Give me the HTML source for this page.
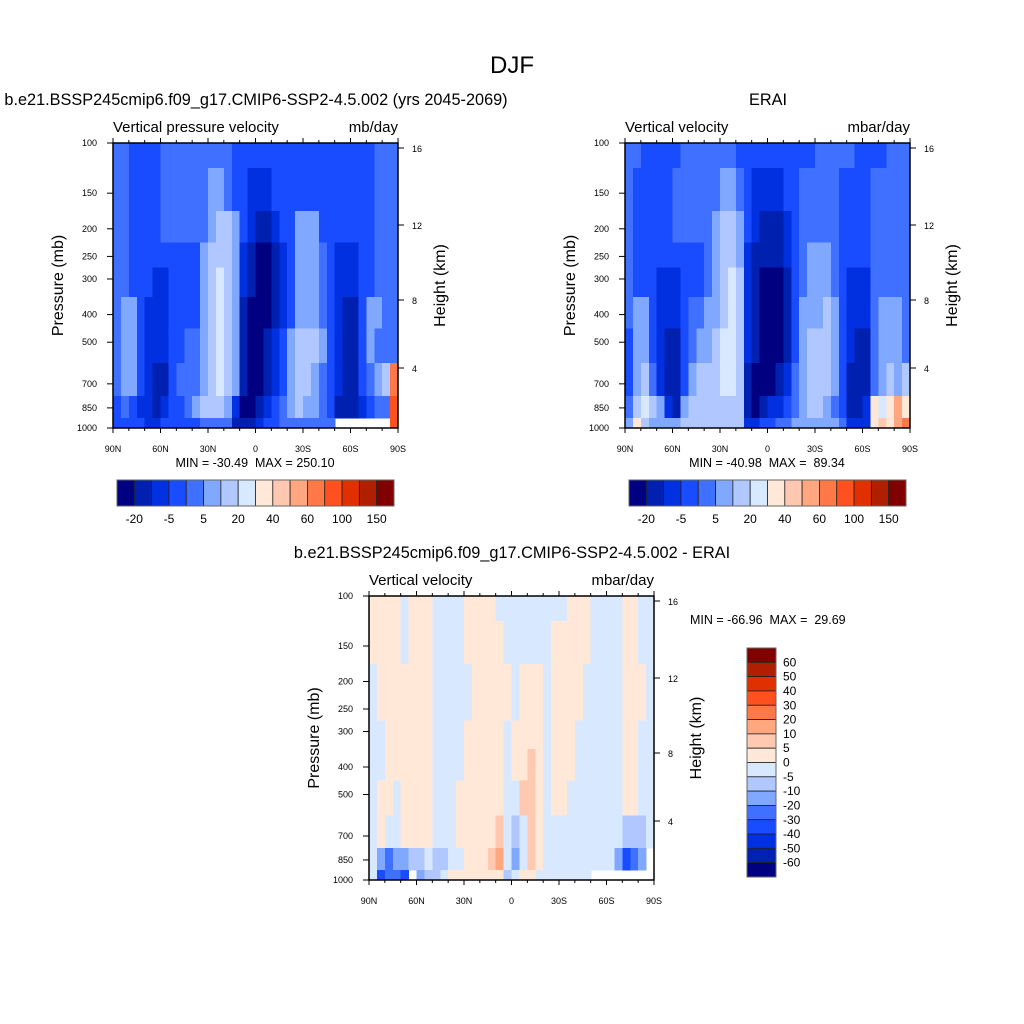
<!DOCTYPE html>
<html><head><meta charset="utf-8"><style>
body{margin:0;background:#fff}
svg{display:block;font-family:"Liberation Sans",sans-serif}
</style></head><body>
<svg id="fig" width="1024" height="1024" viewBox="0 0 1024 1024">
<text x="512" y="73" font-size="24" text-anchor="middle">DJF</text>
</svg>
<script>
const NS="http://www.w3.org/2000/svg";
const svg=document.getElementById('fig');
const pLevels=[100,150,200,250,300,400,500,700,850,1000];
const latCols=36; // 5-degree columns from 90N to 90S
const colors=["#000080","#0020b0","#0030e0","#1a4cff","#4070ff","#80a8ff","#b0c8ff","#d8e8ff","#ffe8d8","#ffc8b0","#ffa880","#ff7848","#ff5020","#e03000","#b02000","#800000"];
const levelsAbs=[-20,-10,-5,0,5,10,20,30,40,50,60,80,100,120,150];
const levelsDiff=[-60,-50,-40,-30,-20,-10,-5,0,5,10,20,30,40,50,60];
const cbLabelsAbs=["-20","-5","5","20","40","60","100","150"];
const cbLabelsDiff=["60","50","40","30","20","10","5","0","-5","-10","-20","-30","-40","-50","-60"];
const latTicks=["90N","60N","30N","0","30S","60S","90S"];
const kmTicks=[16,12,8,4];
const kmTickPx=[5,82,157,225];
const N=null;
// panel 1 (model) rows by pressure level
const m100=[2,2,-2,-2,-2,-2,2,2,2,2,2,2,2,2,2,-2,-2,-2,-2,-2,-2,-2,-2,-2,-2,-2,-2,-2,-2,-2,-2,-2,-2,2,2,2];
const m150=[2,2,-2,-2,-2,-2,2,2,2,2,2,2,7,7,2,-2,-2,-7,-7,-7,-2,-2,-2,-2,-2,-2,-2,-2,-2,-2,-2,-2,-2,2,2,2];
const m200=[2,2,-2,-2,-2,-2,2,2,2,2,2,2,7,15,15,7,-2,-7,-15,-15,-7,-2,-2,7,7,7,-2,-2,-2,-2,-2,-2,-2,2,2,2];
const m250=[2,2,-2,-2,-2,-2,-2,-2,-2,-2,-2,7,15,15,15,7,-7,-15,-25,-25,-15,-7,-2,7,7,7,2,-2,-7,-7,-7,-2,-2,2,2,2];
const m300=[2,2,-2,-2,-2,-7,-7,-2,-2,-2,-2,7,15,25,15,7,-7,-15,-25,-25,-15,-7,-2,7,7,7,2,-2,-7,-7,-7,-2,-2,2,2,2];
const m400=[2,7,7,-2,-7,-7,-7,-2,-2,-2,-2,7,15,25,15,7,-15,-25,-25,-25,-15,-7,-2,7,7,7,2,-2,-7,-15,-15,-2,7,7,2,2];
const m500=[2,7,7,-2,-7,-7,-7,-2,-2,2,2,7,15,25,15,7,-15,-25,-25,-15,-7,-2,7,15,15,15,7,-2,-7,-15,-15,-2,7,2,2,2];
const m700=[2,7,7,-2,-7,-15,-15,-2,2,2,2,7,15,25,15,7,-15,-25,-25,-15,-7,-2,7,15,15,7,2,-2,-7,-15,-15,-2,2,7,15,70];
const m850=[-2,2,-2,-7,-7,-15,-7,-2,-2,2,7,15,15,15,7,-7,-25,-25,-15,-7,-2,2,7,15,7,7,2,-2,-15,-15,-15,-7,-2,2,2,90];
const m1000=[-2,-2,-2,-2,-7,-7,-2,-2,-2,-2,-2,2,2,2,2,-15,-15,-15,-7,-2,-2,2,2,2,2,2,2,2,N,N,N,N,N,N,N,90];
// panel 2 (ERAI)
const e100=[2,2,-2,-2,-2,-2,-2,2,2,2,2,2,2,2,-2,-2,-2,-2,-2,-2,-2,-2,-2,-2,2,2,2,2,2,-2,-2,-2,-2,2,2,2];
const e150=[2,-2,-2,-2,-2,-2,2,2,2,2,2,2,7,7,2,-2,-7,-7,-7,-7,-2,-2,2,2,2,2,2,-2,-2,-2,-2,2,2,2,2,2];
const e200=[2,-2,-2,-2,-2,-2,2,2,2,2,2,7,15,15,7,-2,-7,-15,-15,-15,-7,-2,2,2,2,2,2,-2,-2,-2,-2,2,2,2,2,2];
const e250=[2,-2,-2,-2,-2,-2,-2,-2,-2,-2,2,7,15,15,7,-7,-15,-15,-15,-15,-7,-2,2,7,7,7,2,-2,-2,-2,-2,2,2,2,2,2];
const e300=[2,-2,-2,-2,-7,-7,-7,-2,-2,-2,2,7,15,25,15,-7,-15,-25,-25,-25,-15,-2,2,7,7,7,2,-2,-7,-7,-7,2,2,2,2,2];
const e400=[2,7,7,-2,-7,-7,-7,-2,2,2,7,7,15,25,15,-7,-15,-25,-25,-25,-15,-2,7,7,7,15,7,-2,-7,-7,-7,2,7,7,7,2];
const e500=[-2,7,7,-2,-7,-15,-15,-2,2,7,7,15,25,25,15,-7,-15,-25,-25,-25,-15,-2,7,15,15,15,7,-2,-7,-15,-15,2,7,7,7,2];
const e700=[-2,7,15,2,-7,-15,-15,-2,7,15,15,15,25,25,15,-15,-25,-25,-25,-15,-7,2,7,15,15,15,7,-2,-15,-15,-15,2,7,15,7,15];
const e850=[2,15,25,15,7,-7,-15,7,15,15,15,15,15,15,15,-15,-25,-15,-7,-7,-2,2,7,15,15,7,2,-2,-15,-15,-7,35,25,35,55,35];
const e1000=[7,35,15,7,7,7,7,15,15,15,15,15,15,15,15,-7,-7,-2,-2,2,2,7,7,7,7,7,7,2,-7,-7,-7,35,45,35,55,70];
// panel 3 (difference)
const d100=[2,2,2,2,-2,2,2,2,-2,-2,-2,-2,2,2,2,2,-2,-2,-2,-2,-2,-2,-2,-2,-2,2,2,2,-2,-2,-2,-2,2,2,-2,-2];
const d150=[2,2,2,2,-2,2,2,2,-2,-2,-2,-2,2,2,2,2,2,-2,-2,-2,-2,-2,-2,2,2,2,2,2,-2,-2,-2,-2,2,2,-2,-2];
const d200=[-2,2,2,2,2,2,2,2,-2,-2,-2,-2,-2,2,2,2,2,2,-2,2,2,2,-2,2,2,2,2,-2,-2,-2,-2,-2,2,2,2,-2];
const d250=[-2,2,2,2,2,2,2,2,-2,-2,-2,-2,-2,2,2,2,2,2,-2,2,2,2,-2,2,2,2,2,-2,-2,-2,-2,-2,2,2,2,-2];
const d300=[-2,-2,2,2,2,2,2,2,-2,-2,-2,-2,2,2,2,2,2,-2,2,2,2,2,-2,2,2,2,-2,-2,-2,-2,-2,-2,2,2,-2,-2];
const d400=[-2,-2,2,2,2,2,2,2,-2,-2,-2,-2,2,2,2,2,2,-2,2,2,7,2,-2,2,2,2,-2,-2,-2,-2,-2,-2,2,2,-2,-2];
const d500=[-2,2,2,-2,2,2,2,2,-2,-2,-2,2,2,2,2,2,2,-2,-2,7,7,2,-2,2,2,-2,-2,-2,-2,-2,-2,-2,2,2,-2,-2];
const d700=[-2,2,-2,-2,2,2,2,2,-2,-2,-2,2,2,2,2,2,7,-2,-7,-2,7,2,-2,-2,-2,-2,-2,-2,-2,-2,-2,-2,-7,-7,-7,-2];
const d850=[-2,-15,-25,-15,-15,-7,-7,-2,-7,-7,-2,-2,2,2,2,7,15,-2,-15,-2,7,2,-2,-2,-2,-2,-2,-2,-2,-2,-2,-15,-35,-25,-15,N];
const d1000=[-2,-35,-25,-25,-35,N,-15,-7,-7,-2,2,2,2,2,2,2,2,-7,-2,2,2,-2,-2,-2,-2,-2,-2,-2,N,N,N,N,N,N,N,N];

const gridModel=[m100,m150,m200,m250,m300,m400,m500,m700,m850,m1000];
const gridERAI=[e100,e150,e200,e250,e300,e400,e500,e700,e850,e1000];
const gridDiff=[d100,d150,d200,d250,d300,d400,d500,d700,d850,d1000];

function el(tag,attrs,parent){const e=document.createElementNS(NS,tag);for(const k in attrs)e.setAttribute(k,attrs[k]);(parent||svg).appendChild(e);return e;}
function txt(x,y,s,size,anchor,parent){const t=el('text',{x:x,y:y,'font-size':size,'text-anchor':anchor||'start'},parent);t.textContent=s;return t;}
function bandIndex(v,levels){let i=0;while(i<levels.length&&v>=levels[i])i++;return i;}

function panel(name,X,Y,W,H,grid,levels,leftTitle,rightTitle,minmax,minmaxPos){
  const g=el('g',{});
  
  
  const xs=lat=>X+(90-lat)/180*W;
  const ys=p=>Y+(Math.log10(p)-2)*H;
  const bounds=[100];
  for(let k=0;k<pLevels.length-1;k++)bounds.push(Math.sqrt(pLevels[k]*pLevels[k+1]));
  bounds.push(1000);
  const cells=el('g',{'shape-rendering':'crispEdges'},g);
  
  
  grid.forEach((row,r)=>{
    row.forEach((v,c)=>{
      if(v===null)return;
      const x0=xs(90-c*5),x1=xs(90-(c+1)*5);
      const y0=ys(bounds[r]),y1=ys(bounds[r+1]);
      const rc=el('rect',{x:x0,y:y0,width:x1-x0+0.6,height:y1-y0+0.6,fill:colors[bandIndex(v,levels)]},cells);
      
      
    });
  });
  const fr=el('rect',{x:X,y:Y,width:W,height:H,fill:'none',stroke:'#000','stroke-width':1.5},g);
  
  
  for(let lat=90;lat>=-90;lat-=10){
    const x=xs(lat),major=(lat%30===0),L=major?5:3;
    el('line',{x1:x,x2:x,y1:Y+H,y2:Y+H+L,stroke:'#000','stroke-width':1},g);
    el('line',{x1:x,x2:x,y1:Y,y2:Y-L,stroke:'#000','stroke-width':1},g);
  }
  latTicks.forEach((s,i)=>{const t=txt(xs(90-30*i),Y+H+24,s,9,'middle',g);
    });
  pLevels.forEach(p=>{const y=ys(p);
    el('line',{x1:X-6,x2:X,y1:y,y2:y,stroke:'#000','stroke-width':1},g);
    const t=txt(X-16,y+3,String(p),9,'end',g);
    });
  kmTicks.forEach((k,i)=>{const y=Y+kmTickPx[i];
    el('line',{x1:X+W,x2:X+W+6,y1:y,y2:y,stroke:'#000','stroke-width':1},g);
    const t=txt(X+W+14,y+4,String(k),9,'start',g);
    });
  const yl=txt(0,0,'Pressure (mb)',16,'middle',g);
  yl.setAttribute('transform',`translate(${X-50},${Y+H/2}) rotate(-90)`);
  
  const hl=txt(0,0,'Height (km)',16,'middle',g);
  hl.setAttribute('transform',`translate(${X+W+47},${Y+H/2}) rotate(-90)`);
  
  const lt=txt(X,Y-11,leftTitle,15,'start',g);
  
  const rt=txt(X+W,Y-11,rightTitle,15,'end',g);
  
  const mm=txt(minmaxPos[0],minmaxPos[1],minmax,12.5,minmaxPos[2],g);
  mm.setAttribute('xml:space','preserve');mm.style.whiteSpace='pre';
  
}

function hColorbar(name,X,Y,W,H){
  const g=el('g',{});
  
  
  const bw=W/colors.length;
  colors.forEach((c,i)=>{const r=el('rect',{x:X+i*bw,y:Y,width:bw,height:H,fill:c,stroke:'#222','stroke-width':0.8},g);
    });
  el('rect',{x:X,y:Y,width:W,height:H,fill:'none',stroke:'#666','stroke-width':1},g);
  cbLabelsAbs.forEach((s,i)=>{const t=txt(X+(1+2*i)*bw,Y+H+17,s,12,'middle',g);
    });
}
function vColorbar(name,X,Y,W,H){
  const g=el('g',{});
  
  
  const bh=H/colors.length;
  colors.slice().reverse().forEach((c,i)=>{const r=el('rect',{x:X,y:Y+i*bh,width:W,height:bh,fill:c,stroke:'#222','stroke-width':0.8},g);
    });
  el('rect',{x:X,y:Y,width:W,height:H,fill:'none',stroke:'#666','stroke-width':1},g);
  cbLabelsDiff.forEach((s,i)=>{const t=txt(X+W+7,Y+(i+1)*bh+4,s,12,'start',g);
    });
}

let t;
t=txt(256,105,'b.e21.BSSP245cmip6.f09_g17.CMIP6-SSP2-4.5.002 (yrs 2045-2069)',16.3,'middle');

t=txt(768,105,'ERAI',16.3,'middle');

t=txt(512,558,'b.e21.BSSP245cmip6.f09_g17.CMIP6-SSP2-4.5.002 - ERAI',16.3,'middle');


panel('model-panel',113,143,285,285,gridModel,levelsAbs,'Vertical pressure velocity','mb/day','MIN = -30.49  MAX = 250.10',[255,467,'middle']);
panel('erai-panel',625,143,285,285,gridERAI,levelsAbs,'Vertical velocity','mbar/day','MIN = -40.98  MAX =  89.34',[767,467,'middle']);
panel('diff-panel',369,596,285,284,gridDiff,levelsDiff,'Vertical velocity','mbar/day','MIN = -66.96  MAX =  29.69',[690,624,'start']);
hColorbar('model-colorbar',117,480,277,26);
hColorbar('erai-colorbar',629,480,277,26);
vColorbar('diff-colorbar',747,648,29,229);
</script>
</body></html>
